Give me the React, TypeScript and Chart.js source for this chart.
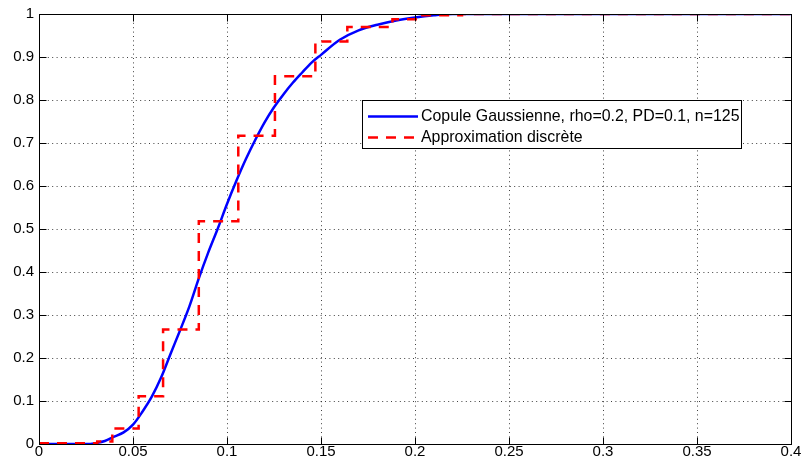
import React, { useEffect, useRef } from "react";
import { Chart, registerables } from "chart.js";

Chart.register(...registerables);

// Smooth CDF (Gaussian copula)
const curveX = [0, 0.025, 0.03, 0.035, 0.04, 0.045, 0.05, 0.055, 0.06, 0.065, 0.07, 0.075, 0.08, 0.085, 0.09, 0.095, 0.1, 0.105, 0.11, 0.115, 0.12, 0.125, 0.13, 0.135, 0.14, 0.145, 0.15, 0.16, 0.17, 0.18, 0.19, 0.2, 0.21, 0.22, 0.25, 0.3, 0.35, 0.4];
const curveY = [0, 0, 0.002, 0.007, 0.017, 0.027, 0.045, 0.075, 0.11, 0.155, 0.21, 0.264, 0.32, 0.385, 0.445, 0.5, 0.558, 0.612, 0.662, 0.707, 0.748, 0.783, 0.813, 0.84, 0.864, 0.887, 0.905, 0.94, 0.962, 0.975, 0.985, 0.992, 0.997, 1, 1, 1, 1, 1];

// Discrete approximation (step function)
const stepX = [0, 0.031, 0.039, 0.053, 0.066, 0.085, 0.106, 0.1255, 0.147, 0.164, 0.188, 0.203, 0.225, 0.4];
const stepY = [0.002, 0.006, 0.036, 0.111, 0.266, 0.518, 0.717, 0.855, 0.936, 0.97, 0.988, 0.997, 1, 1];

const xTicks = [0, 0.05, 0.1, 0.15, 0.2, 0.25, 0.3, 0.35, 0.4];
const yTicks = [0, 0.1, 0.2, 0.3, 0.4, 0.5, 0.6, 0.7, 0.8, 0.9, 1];

const labelCurve = "Copule Gaussienne, rho=0.2, PD=0.1, n=125";
const labelStep = "Approximation discrète";

const FONT = "Liberation Sans, Arial, Helvetica, sans-serif";
const DASH = [10, 8];

const fmt = (v: number) => String(Number(v.toFixed(3)));

const matlabPlugin = {
  id: "matlabAxes",
  beforeDatasetsDraw(chart: any) {
    const { ctx, chartArea: a, scales } = chart;
    ctx.save();
    ctx.strokeStyle = "rgba(0,0,0,0.75)";
    ctx.lineWidth = 1;
    ctx.setLineDash([1, 3.4]);
    xTicks.forEach((v) => {
      const x = Math.round(scales.x.getPixelForValue(v)) + 0.5;
      if (v === xTicks[0] || v === xTicks[xTicks.length - 1]) return;
      ctx.beginPath();
      ctx.moveTo(x, a.top);
      ctx.lineTo(x, a.bottom);
      ctx.stroke();
    });
    yTicks.forEach((v) => {
      if (v === yTicks[0] || v === yTicks[yTicks.length - 1]) return;
      const y = Math.round(scales.y.getPixelForValue(v)) + 0.5;
      ctx.beginPath();
      ctx.moveTo(a.left, y);
      ctx.lineTo(a.right, y);
      ctx.stroke();
    });
    ctx.restore();
  },
  afterDatasetsDraw(chart: any) {
    const { ctx, chartArea: a, scales } = chart;
    ctx.save();
    ctx.setLineDash([]);
    ctx.strokeStyle = "#000";
    ctx.lineWidth = 1;
    const L = Math.round(a.left) + 0.5;
    const R = Math.round(a.right) + 0.5;
    const T = Math.round(a.top) + 0.5;
    const B = Math.round(a.bottom) + 0.5;
    ctx.strokeRect(L, T, R - L, B - T);
    const tl = 7;
    ctx.beginPath();
    xTicks.forEach((v) => {
      const x = Math.round(scales.x.getPixelForValue(v)) + 0.5;
      ctx.moveTo(x, B);
      ctx.lineTo(x, B - tl);
      ctx.moveTo(x, T);
      ctx.lineTo(x, T + tl);
    });
    yTicks.forEach((v) => {
      const y = Math.round(scales.y.getPixelForValue(v)) + 0.5;
      ctx.moveTo(L, y);
      ctx.lineTo(L + tl, y);
      ctx.moveTo(R, y);
      ctx.lineTo(R - tl, y);
    });
    ctx.stroke();

    // legend box
    const bx = 362.5, by = 100.5, bw = 379, bh = 48;
    ctx.fillStyle = "#fff";
    ctx.fillRect(bx, by, bw, bh);
    ctx.strokeRect(bx, by, bw, bh);
    const ds = chart.data.datasets;
    const rows = [116.5, 137.5];
    ds.forEach((d: any, i: number) => {
      const y = rows[i];
      ctx.save();
      ctx.strokeStyle = d.borderColor;
      ctx.lineWidth = d.borderWidth;
      ctx.setLineDash(d.borderDash || []);
      ctx.beginPath();
      ctx.moveTo(368, y);
      ctx.lineTo(418, y);
      ctx.stroke();
      ctx.restore();
      ctx.fillStyle = "#000";
      ctx.font = `15.9px ${FONT}`;
      ctx.textBaseline = "middle";
      ctx.textAlign = "left";
      ctx.fillText(d.label, 421, y + 0.5);
    });
    ctx.restore();
  },
};

export default function App() {
  const ref = useRef<HTMLCanvasElement | null>(null);
  useEffect(() => {
    document.body.style.margin = "0";
    const canvas = ref.current;
    if (!canvas) return;
    const chart = new Chart(canvas, {
      type: "line",
      data: {
        datasets: [
          {
            label: labelCurve,
            data: curveX.map((x, i) => ({ x, y: curveY[i] })),
            borderColor: "#0000ff",
            borderWidth: 2.5,
            pointRadius: 0,
            cubicInterpolationMode: "monotone",
            fill: false,
            order: 2,
          },
          {
            label: labelStep,
            data: stepX.map((x, i) => ({ x, y: stepY[i] })),
            borderColor: "#ff0000",
            borderWidth: 2.5,
            borderDash: DASH,
            pointRadius: 0,
            stepped: "before",
            fill: false,
            order: 1,
          },
        ],
      },
      options: {
        responsive: false,
        animation: false,
        maintainAspectRatio: false,
        layout: { padding: { left: 0, right: 11, top: 12, bottom: 0 } },
        plugins: { legend: { display: false }, tooltip: { enabled: false } },
        scales: {
          x: {
            type: "linear",
            min: 0,
            max: 0.4,
            grid: { display: false, drawTicks: false },
            border: { display: false },
            afterBuildTicks: (s: any) => {
              s.ticks = xTicks.map((v) => ({ value: v }));
            },
            afterFit: (s: any) => {
              s.height = 24;
            },
            ticks: {
              color: "#000",
              font: { family: FONT, size: 15 },
              padding: -1,
              maxRotation: 0,
              autoSkip: false,
              callback: (v: any) => fmt(Number(v)),
            },
          },
          y: {
            type: "linear",
            min: 0,
            max: 1,
            grid: { display: false, drawTicks: false },
            border: { display: false },
            afterBuildTicks: (s: any) => {
              s.ticks = yTicks.map((v) => ({ value: v }));
            },
            afterFit: (s: any) => {
              s.width = 39;
            },
            ticks: {
              color: "#000",
              font: { family: FONT, size: 15 },
              padding: 5,
              autoSkip: false,
              callback: (v: any) => fmt(Number(v)),
            },
          },
        },
      },
      plugins: [matlabPlugin],
    } as any);
    return () => chart.destroy();
  }, []);
  return (
    <div style={{ position: "absolute", left: 0, top: 0, width: 802, height: 468, background: "#fff" }}>
      <canvas ref={ref} width={802} height={468} style={{ display: "block", width: 802, height: 468 }} />
    </div>
  );
}
